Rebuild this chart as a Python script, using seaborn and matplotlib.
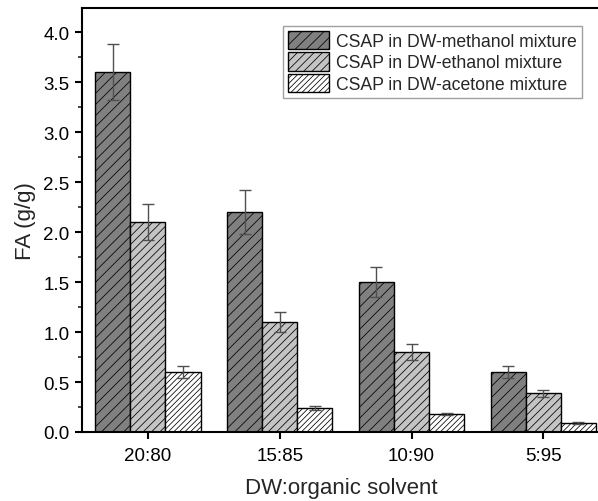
import matplotlib
matplotlib.use("Agg")
import matplotlib.pyplot as plt
import seaborn as sns
import pandas as pd
import numpy as np
from matplotlib.ticker import MultipleLocator
from matplotlib.patches import Patch

categories = ["20:80", "15:85", "10:90", "5:95"]
series_names = ["CSAP in DW-methanol mixture", "CSAP in DW-ethanol mixture", "CSAP in DW-acetone mixture"]
methanol = [3.6, 2.2, 1.5, 0.6]
ethanol = [2.1, 1.1, 0.8, 0.39]
acetone = [0.6, 0.24, 0.18, 0.09]
methanol_err = [0.28, 0.22, 0.15, 0.06]
ethanol_err = [0.18, 0.1, 0.08, 0.035]
acetone_err = [0.06, 0.02, 0.012, 0.007]

values = [methanol, ethanol, acetone]
errors = [methanol_err, ethanol_err, acetone_err]
rows = []
for name, vals, errs in zip(series_names, values, errors):
    for c, v, e in zip(categories, vals, errs):
        rows.append({"ratio": c, "series": name, "FA": v, "err": e})
df = pd.DataFrame(rows)

sns.set_style("ticks")
plt.rcParams['font.family'] = ['Liberation Sans', 'DejaVu Sans']
plt.rcParams['hatch.color'] = '#3a3a3a'
plt.rcParams['hatch.linewidth'] = 0.55

fig = plt.figure(figsize=(5.98, 5.02), dpi=100)
ax = fig.add_axes([82/598, 69/502, 518/598, 424/502])

colors = ["#808080", "#c4c4c4", "#ffffff"]
sns.barplot(data=df, x="ratio", y="FA", hue="series", order=categories,
            hue_order=series_names, palette=colors, errorbar=None,
            saturation=1, width=0.8, edgecolor="black", linewidth=1.0, ax=ax,
            legend=False)

hatches = ["///", "////", "//////"]
n = len(categories)
patches = [p for p in ax.patches][:n * len(series_names)]
for si, name in enumerate(series_names):
    for ci in range(n):
        p = patches[si * n + ci]
        p.set_hatch(hatches[si])
        xc = p.get_x() + p.get_width() / 2
        ax.errorbar(xc, p.get_height(), yerr=errors[si][ci], color="#505050",
                    elinewidth=1.0, capsize=4, capthick=1.0, zorder=5)

ax.set_xlim(-0.5, 3.43)
ax.set_ylim(0, 4.24)
ax.yaxis.set_major_locator(MultipleLocator(0.5))
ax.yaxis.set_minor_locator(MultipleLocator(0.25))
ax.yaxis.set_major_formatter(matplotlib.ticker.FormatStrFormatter('%.1f'))
ax.tick_params(axis='both', which='major', direction='out', length=5, width=1.5,
               labelsize=13.5, colors='black', pad=4)
ax.tick_params(axis='x', which='major', pad=6)
ax.tick_params(axis='y', which='minor', direction='out', length=3, width=1.2)
ax.tick_params(axis='x', which='minor', bottom=False)
for s in ["left", "bottom", "top"]:
    ax.spines[s].set_linewidth(1.5)
    ax.spines[s].set_color("black")
ax.spines["right"].set_visible(False)
ax.spines["top"].set_visible(True)

ax.set_xlabel("DW:organic solvent", fontsize=16, labelpad=9)
ax.set_ylabel("FA (g/g)", fontsize=16, labelpad=5)

handles = [Patch(facecolor=colors[i], edgecolor="black", hatch=hatches[i], linewidth=1.0)
           for i in range(len(series_names))]
leg = ax.legend(handles, series_names, loc="upper right", bbox_to_anchor=(0.965, 0.9575),
                fontsize=12.7, frameon=True, fancybox=False, edgecolor="#888888",
                handlelength=2.3, handleheight=1.2, handletextpad=0.4,
                labelspacing=0.12, borderpad=0.3, borderaxespad=0.0)
leg.get_frame().set_linewidth(1.0)

fig.savefig("out.png", dpi=100)
